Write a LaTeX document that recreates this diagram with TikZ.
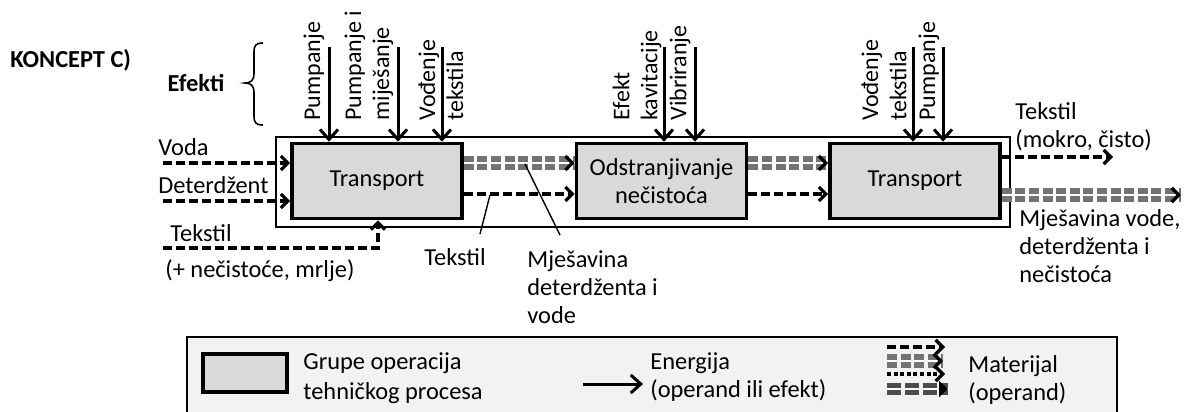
\documentclass[tikz,border=0pt]{standalone}
\usepackage{fontspec}
\setmainfont{Carlito}
\usetikzlibrary{arrows.meta,decorations.markings}
\begin{document}
\begin{tikzpicture}[x=0.5pt,y=-0.5pt,
  font=\fontsize{12.2}{14}\selectfont,
  proc/.style={draw, line width=1.8pt, fill=gray!30, minimum width=85pt, minimum height=37.5pt, inner sep=0pt, align=center},
  energy/.style={line width=1.5pt, -{Straight Barb[length=5pt,width=9pt]}},
  mat/.style={line width=1.6pt, dash pattern=on 4.5pt off 2pt, -{Straight Barb[length=3.5pt,width=7pt]}},
  matdot/.style={line width=1.6pt, dash pattern=on 2pt off 1.3pt, -{Straight Barb[length=3.5pt,width=7pt]}},
  dbltip/.style={postaction={decorate, decoration={markings, mark=at position 1 with {\arrow[black,line width=1.6pt]{Straight Barb[length=3.5pt,width=7pt]}}}}},
  matdbl/.style={draw=gray!90!black, line width=2.8pt, double=white, double distance=1.3pt, dash pattern=on 5pt off 1.8pt, dbltip},
  matdblb/.style={draw=gray!60!black, line width=2.8pt, double=white, double distance=0.6pt, dash pattern=on 7pt off 2pt,
    postaction={decorate, decoration={markings, mark=at position 1 with {\arrow[black]{Triangle[length=4.5pt,width=8pt]}}}}},
  rotlab/.style={rotate=90, anchor=west, align=left, inner sep=0pt, font=\fontsize{12}{14}\selectfont},
  lab/.style={anchor=west, align=left, inner sep=0pt},
  note/.style={line width=0.7pt}
]
\useasboundingbox (0,0) rectangle (1185,412);

% title and brace
\node[lab, font=\fontsize{12.2}{14}\selectfont\bfseries] (title) at (10,60) {KONCEPT C)};
\node[inner sep=0pt, font=\fontsize{12.2}{14}\selectfont\bfseries] (efekti) at (196,83) {Efekti};
\draw[line width=0.8pt] (263,43) .. controls (256,43) and (254,45) .. (254,52) -- (254,74)
  .. controls (254,80) and (251,83) .. (245,83) .. controls (251,83) and (254,86) .. (254,92)
  -- (254,116) .. controls (254,123) and (256,125) .. (263,125);

% outer frame and process boxes
\node[draw, line width=1.3pt, minimum width=367pt, minimum height=45pt, inner sep=0pt] (outer) at (643,182) {};
\node[proc] (b1) at (377,181) {Transport};
\node[proc] (b2) at (661.5,181) {Odstranjivanje\\nečistoća};
\node[proc] (b3) at (915,181) {Transport};

% effects (energy)
\coordinate (e1) at (329,47);
\coordinate (e2) at (398,47);
\coordinate (e3) at (442,47);
\coordinate (e4) at (664,47);
\coordinate (e5) at (695,47);
\coordinate (e6) at (913,47);
\coordinate (e7) at (943,47);
\foreach \e in {e1,e2,e3}{\draw[energy] (\e) -- (\e |- b1.north);}
\foreach \e in {e4,e5}{\draw[energy] (\e) -- (\e |- b2.north);}
\foreach \e in {e6,e7}{\draw[energy] (\e) -- (\e |- b3.north);}

\node[rotlab] (l1) at (314,121) {Pumpanje};
\node[rotlab] (l2) at (369,121) {Pumpanje i\\mije\v{s}anje};
\node[rotlab] (l3) at (441,121) {Vođenje\\tekstila};
\node[rotlab] (l4) at (637,121) {Efekt\\kavitacije};
\node[rotlab] (l5) at (680,121) {Vibriranje};
\node[rotlab] (l6) at (884,121) {Vođenje\\tekstila};
\node[rotlab] (l7) at (929,121) {Pumpanje};

% inputs
\node[lab] (tvoda) at (158,147) {Voda};
\node[lab] (tdet) at (158,185) {Deterdžent};
\node[lab] (ttek) at (170,233) {Tekstil};
\node[lab] (tnec) at (165,271) {(+ nečistoće, mrlje)};
\coordinate (vin) at (163,163);
\coordinate (din) at (163,201);
\coordinate (tin) at (163,248);
\coordinate (tup) at (378,248);
\draw[mat] (vin) -- (vin -| b1.west);
\draw[mat] (din) -- (din -| b1.west);
\draw[mat] (tin) -- (tup) -- (tup |- b1.south);

% between boxes
\draw[matdbl] (b1.east |- 0,163) -- (b2.west |- 0,163);
\draw[mat] (b1.east |- 0,194) -- (b2.west |- 0,194);
\draw[matdbl] (b2.east |- 0,163) -- (b3.west |- 0,163);
\draw[mat] (b2.east |- 0,194) -- (b3.west |- 0,194);

% annotations
\node[inner sep=0pt] (ttek2) at (455,257) {Tekstil};
\coordinate (a1) at (490,195);
\coordinate (a1e) at (480,234);
\draw[note] (a1) -- (a1e);
\node[lab] (tmjes) at (527,287) {Mješavina\\deterdženta i\\vode};
\coordinate (a2) at (525,164);
\coordinate (a2e) at (560,235);
\draw[note] (a2) -- (a2e);

% outputs
\coordinate (o1) at (1113,157);
\coordinate (o2) at (1181,195);
\draw[mat] (b3.east |- o1) -- (o1);
\draw[matdbl] (b3.east |- o2) -- (o2);
\node[lab] (tout1) at (1015,127) {Tekstil\\(mokro, čisto)};
\node[lab] (tout2) at (1019,246) {Mješavina vode,\\deterdženta i\\nečistoća};

% legend
\fill[gray!10] (187,337) rectangle (1117,413);
\draw[line width=1.3pt] (187,413) -- (187,337) -- (1117,337) -- (1117,413);
\node[draw, line width=1.8pt, fill=gray!30, minimum width=42pt, minimum height=19pt, inner sep=0pt] (lg1) at (245,373) {};
\node[lab, font=\fontsize{12.2}{15}\selectfont] (lt1) at (303,378) {Grupe operacija\\tehničkog procesa};
\coordinate (la1) at (583,384);
\coordinate (la2) at (643,384);
\draw[energy] (la1) -- (la2);
\node[lab] (lt2) at (650,377) {Energija\\(operand ili efekt)};
\coordinate (m1a) at (887,347); \coordinate (m1b) at (945,347);
\coordinate (m2a) at (887,361); \coordinate (m2b) at (943,361);
\coordinate (m3a) at (887,374); \coordinate (m3b) at (945,374);
\coordinate (m4a) at (887,389); \coordinate (m4b) at (948,389);
\draw[mat] (m1a) -- (m1b);
\draw[matdbl] (m2a) -- (m2b);
\draw[matdot] (m3a) -- (m3b);
\draw[matdblb] (m4a) -- (m4b);
\node[lab] (lt3) at (968,380) {Materijal\\(operand)};
\end{tikzpicture}
\end{document}
